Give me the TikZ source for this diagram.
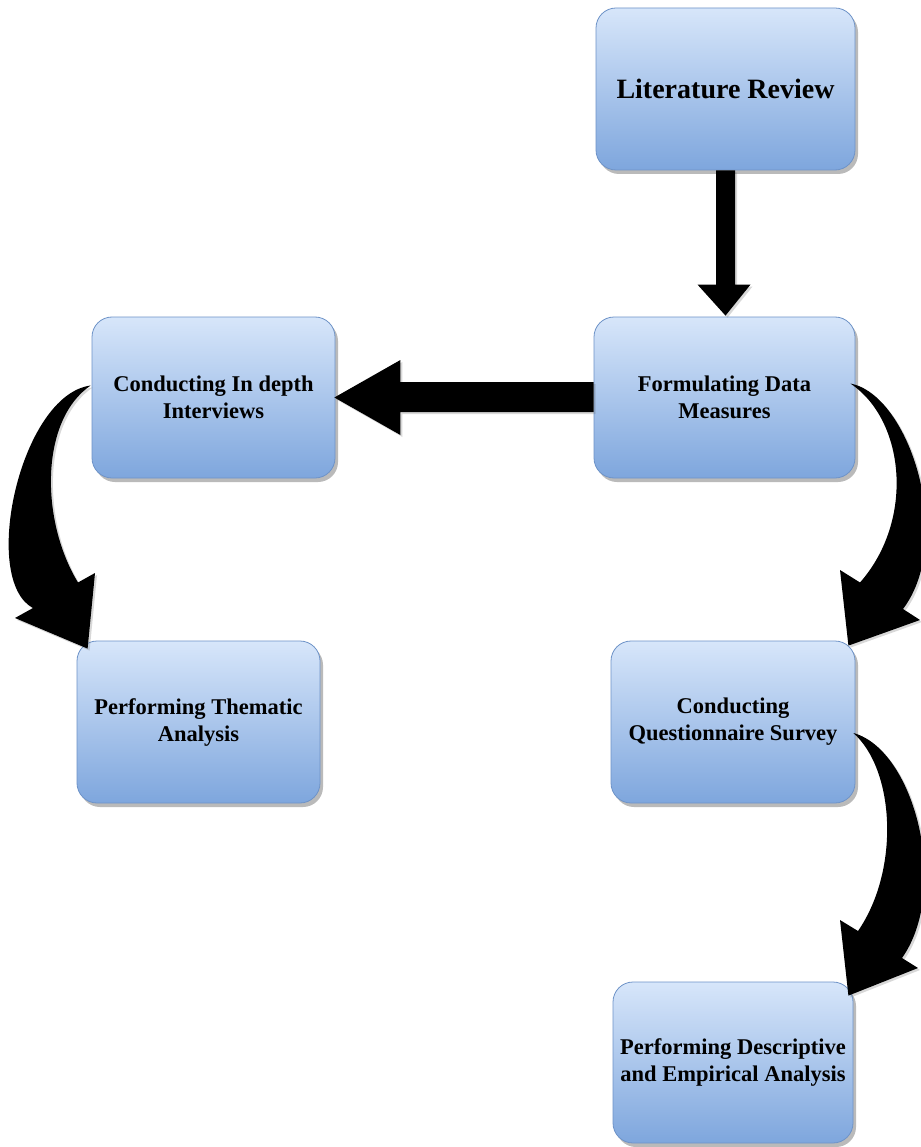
\documentclass[tikz,border=0pt]{standalone}
\usepackage{fontspec}
\setmainfont{Liberation Serif}
\usetikzlibrary{calc,shadows}
\definecolor{boxtop}{HTML}{D7E6FA}
\definecolor{boxbot}{HTML}{7EA6DD}
\definecolor{boxline}{HTML}{6E93C8}
\tikzset{
  stepbox/.style={draw=boxline, line width=0.8pt, rounded corners=20pt,
    top color=boxtop, bottom color=boxbot, inner sep=0pt, align=center,
    font=\bfseries\fontsize{22.5}{27}\selectfont,
    drop shadow={shadow xshift=3pt, shadow yshift=-4pt, opacity=0.45, fill=black!60}},
  blockarrow/.style={fill=black, draw=none,
    drop shadow={shadow xshift=2pt, shadow yshift=-2pt, opacity=0.25, fill=black!60}}
}
\begin{document}
\begin{tikzpicture}[x=1pt,y=-1pt]
\useasboundingbox (0,0) rectangle (920,1147);
\fill[white] (0,0) rectangle (920,1147);

\node[stepbox, minimum width=259pt, minimum height=162pt, font=\bfseries\fontsize{28}{32}\selectfont] (lit) at (725.5,89) {Literature Review};
\node[stepbox, minimum width=261pt, minimum height=161pt] (form) at (724.5,397.5) {Formulating Data\\Measures};
\node[stepbox, minimum width=243pt, minimum height=161pt] (intv) at (213.5,397.5) {Conducting In depth\\Interviews};
\node[stepbox, minimum width=243pt, minimum height=162pt] (them) at (198.5,722) {Performing Thematic\\Analysis};
\node[stepbox, minimum width=244pt, minimum height=162pt] (quest) at (733,722) {Conducting\\Questionnaire Survey};
\node[stepbox, minimum width=240pt, minimum height=161pt] (desc) at (733,1062.5) {Performing Descriptive\\and Empirical Analysis};

% straight down arrow: lit -> form
\path[blockarrow]
  ($(lit.south)+(-9.5,0)$) -- ($(lit.south)+(9.5,0)$)
  -- ($(form.north)+(10.5,-32)$) -- ($(form.north)+(26,-32)$)
  -- ($(form.north)+(1,-1)$)
  -- ($(form.north)+(-27,-32)$) -- ($(form.north)+(-8.5,-32)$) -- cycle;

% straight left arrow: form -> intv
\path[blockarrow]
  ($(form.west)+(0,-15.5)$) -- ($(form.west)+(0,14.5)$)
  -- ($(intv.east)+(65,14.5)$) -- ($(intv.east)+(65,37.5)$)
  -- ($(intv.east)+(-1,0)$)
  -- ($(intv.east)+(65,-37.5)$) -- ($(intv.east)+(65,-15.5)$) -- cycle;

% curved arrow: intv -> them
\path[blockarrow]
  ($(intv.west)+(-1,-12)$) .. controls (20,395) and (-20,580) .. (33,608)
  -- (15,618) -- ($(them.north west)+(11,8)$) -- (95,573) -- (78,582.5)
  .. controls (40,520) and (40,420) .. ($(intv.west)+(-1,-12)$) -- cycle;

% curved arrow: form -> quest
\path[blockarrow]
  ($(form.east)+(-5,-14)$) .. controls (910,395) and (955,540) .. (903,609)
  -- (920,620) -- ($(quest.north east)+(-7,5)$) -- (840,570) -- (860,582.5)
  .. controls (915,520) and (905,420) .. ($(form.east)+(-5,-14)$) -- cycle;

% curved arrow: quest -> desc
\path[blockarrow]
  ($(quest.east)+(-2,11)$) .. controls (915,750) and (950,890) .. (902,958)
  -- (918,968) -- ($(desc.north east)+(-5,14)$) -- (840,920) -- (858,931)
  .. controls (900,870) and (895,770) .. ($(quest.east)+(-2,11)$) -- cycle;
\end{tikzpicture}
\end{document}
